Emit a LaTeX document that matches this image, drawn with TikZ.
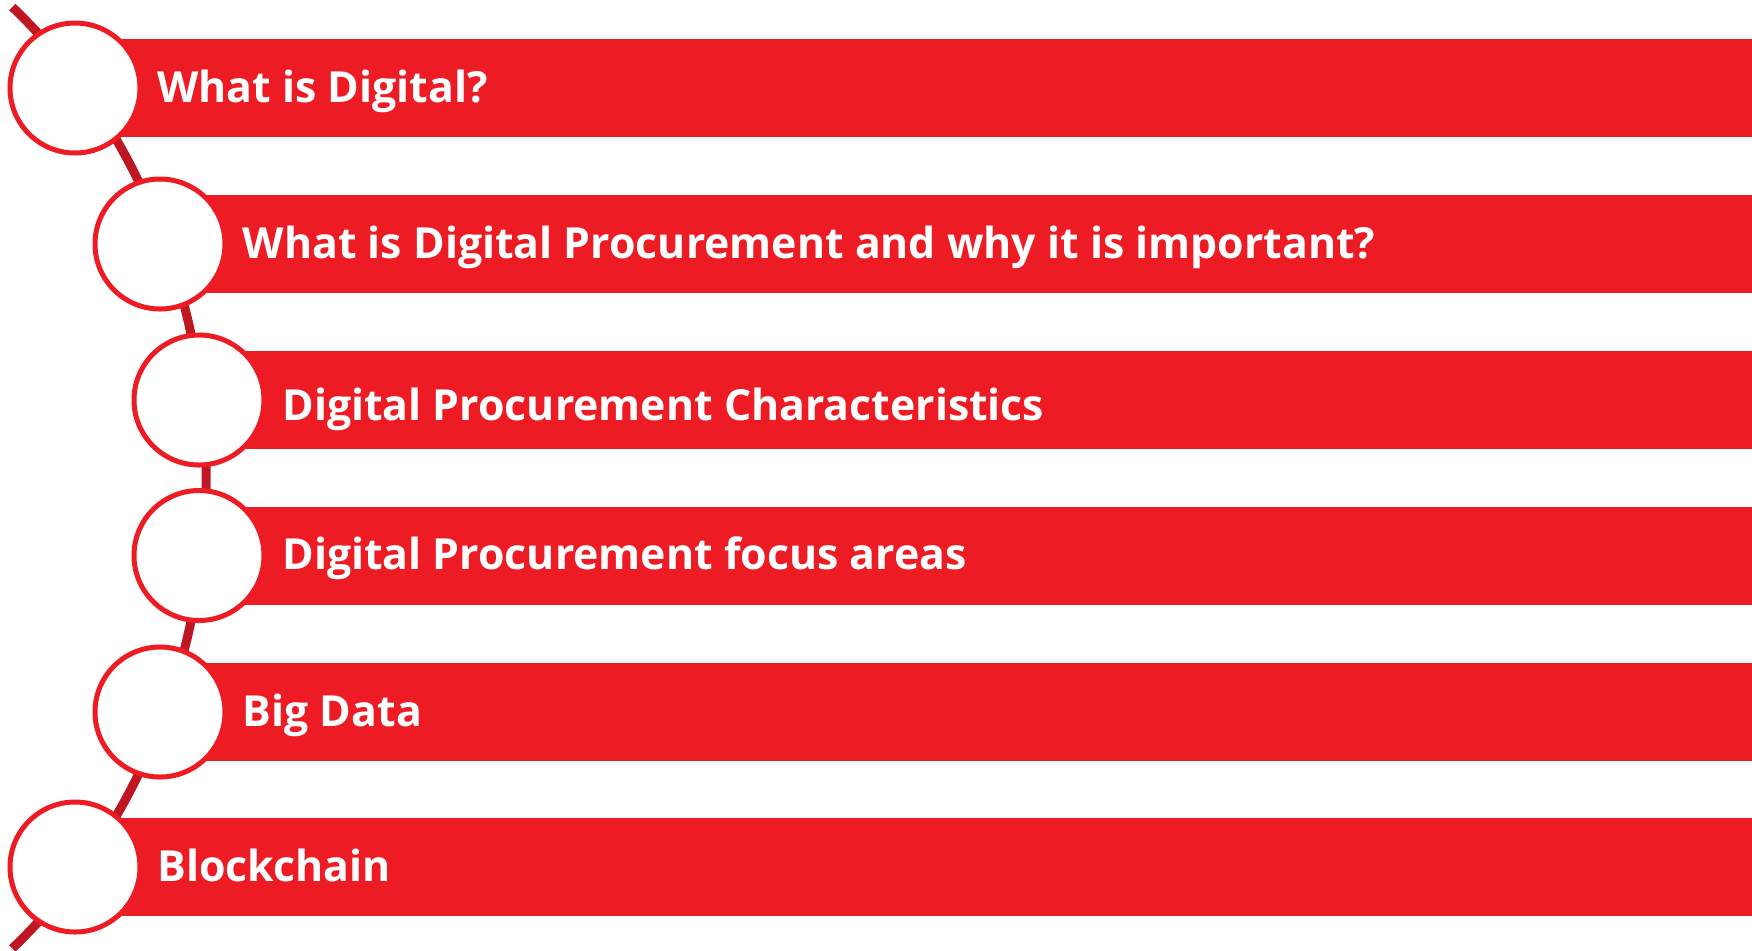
\documentclass[tikz,border=0pt]{standalone}
\usepackage{fontspec}
\setmainfont{Open Sans}
\definecolor{barred}{HTML}{ED1C24}
\definecolor{linkred}{HTML}{BE1622}
\begin{document}
\begin{tikzpicture}[x=0.5pt,y=-0.5pt,
  bar/.style={fill=barred, draw=none, rectangle, anchor=west, inner sep=0pt, minimum height=49pt},
  ring/.style={circle, fill=white, draw=barred, line width=2.5pt, minimum size=65pt, inner sep=0pt},
  link/.style={draw=linkred, line width=4.5pt},
  label/.style={anchor=base west, inner sep=0pt, text=white, font=\fontsize{21.4}{25}\selectfont\bfseries}]
\useasboundingbox (0,0) rectangle (1752,950);
% connector arc
\coordinate (ctop) at (12.3,7);
\draw[link] (ctop) arc[start angle=49.4, end angle=-49.4, x radius=277.5pt, y radius=310pt] coordinate (cbot);
% bars
\node[bar, minimum width=838.5pt] (b1) at (75,88) {};
\node[bar, minimum width=796pt] (b2) at (160,244) {};
\node[bar, minimum width=776.5pt] (b3) at (199,400) {};
\node[bar, minimum width=776.5pt] (b4) at (199,555.5) {};
\node[bar, minimum width=796pt] (b5) at (160,712) {};
\node[bar, minimum width=838.5pt] (b6) at (75,867) {};
% circles
\node[ring] (c1) at (75,88) {};
\node[ring] (c2) at (160,244) {};
\node[ring] (c3) at (199,400) {};
\node[ring] (c4) at (199,555.5) {};
\node[ring] (c5) at (160,712) {};
\node[ring] (c6) at (75,867) {};
% labels
\node[label] (t1) at (157,102) {What is Digital?};
\node[label] (t2) at (242.5,258) {What is Digital Procurement and why it is important?};
\node[label] (t3) at (282,420) {Digital Procurement Characteristics};
\node[label] (t4) at (282,569.5) {Digital Procurement focus areas};
\node[label] (t5) at (242.5,726) {Big Data};
\node[label] (t6) at (157,881) {Blockchain};
\end{tikzpicture}
\end{document}
